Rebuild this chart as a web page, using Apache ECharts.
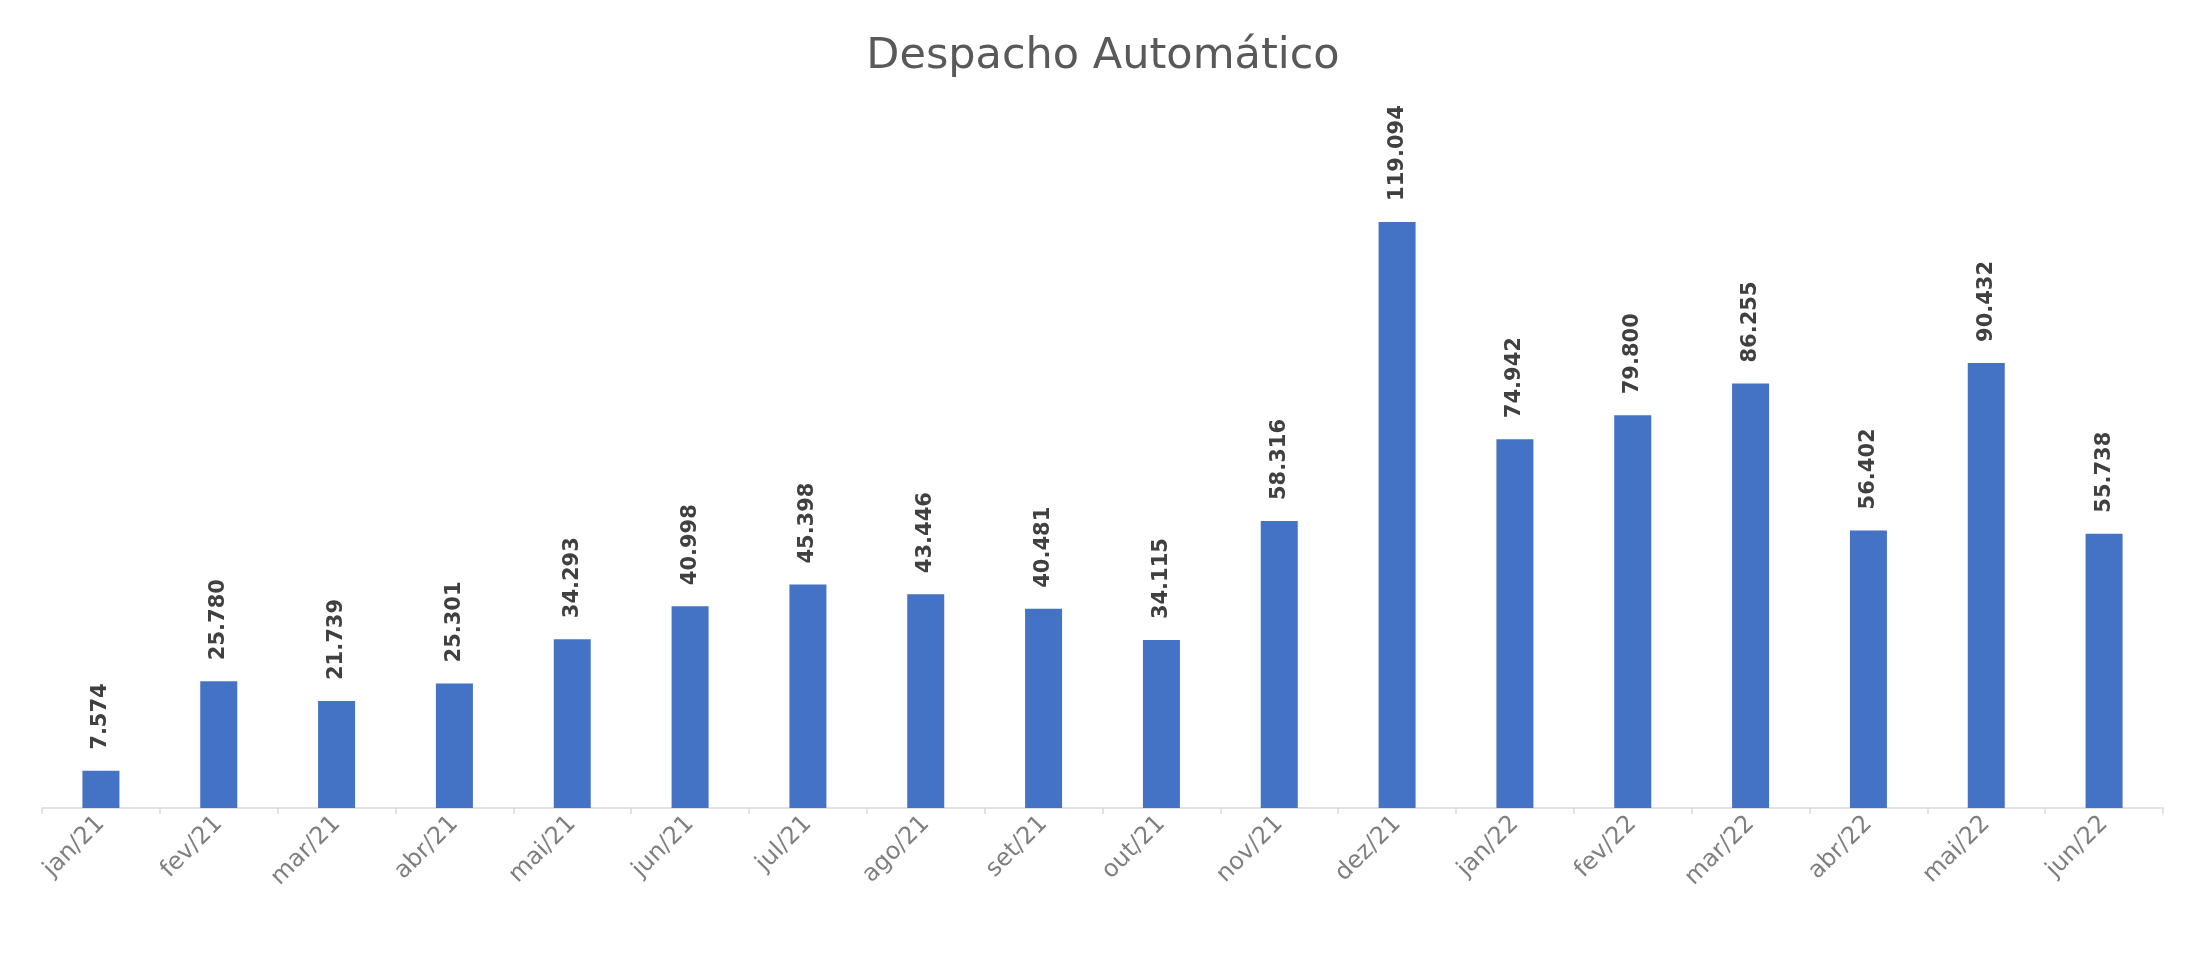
<!DOCTYPE html>
<html>
<head>
<meta charset="utf-8">
<script src="https://cdn.jsdelivr.net/npm/echarts@6/dist/echarts.min.js"></script>
<style>
html,body{margin:0;padding:0;background:#fff;}
#chart{width:2189px;height:965px;}
</style>
</head>
<body>
<div id="chart"></div>
<script>
const titleText = 'Despacho Automático';
const categories = ['jan/21','fev/21','mar/21','abr/21','mai/21','jun/21','jul/21','ago/21','set/21','out/21','nov/21','dez/21','jan/22','fev/22','mar/22','abr/22','mai/22','jun/22'];
const values = [7574, 25780, 21739, 25301, 34293, 40998, 45398, 43446, 40481, 34115, 58316, 119094, 74942, 79800, 86255, 56402, 90432, 55738];

function fmt(v){
  return String(v).replace(/\B(?=(\d{3})+(?!\d))/g, '.');
}

const chart = echarts.init(document.getElementById('chart'));
chart.setOption({
  backgroundColor: '#ffffff',
  animation: false,
  title: {
    text: titleText,
    left: 1098,
    top: 30,
    textAlign: 'center',
    textStyle: {
      fontFamily: 'DejaVu Sans',
      fontSize: 43,
      fontWeight: 'normal',
      color: '#595959'
    }
  },
  grid: {
    left: 42,
    right: 26,
    top: 119,
    bottom: 157,
    containLabel: false
  },
  xAxis: {
    type: 'category',
    data: categories,
    axisLine: { lineStyle: { color: '#d9d9d9', width: 1.5 } },
    axisTick: { show: true, alignWithLabel: false, length: 6, lineStyle: { color: '#d9d9d9', width: 1.5 } },
    axisLabel: {
      rotate: 45,
      interval: 0,
      margin: 12,
      fontFamily: 'DejaVu Sans',
      fontSize: 24,
      color: '#7f7f7f'
    }
  },
  yAxis: {
    type: 'value',
    min: 0,
    max: 140000,
    show: false,
    splitLine: { show: false }
  },
  series: [{
    type: 'bar',
    data: values,
    barWidth: 37,
    itemStyle: { color: '#4472C4' },
    label: {
      show: true,
      position: 'top',
      rotate: 90,
      align: 'left',
      verticalAlign: 'middle',
      distance: 21,
      fontFamily: 'DejaVu Sans',
      fontSize: 21,
      fontWeight: 'bold',
      color: '#404040',
      formatter: function(p){ return fmt(p.value); }
    }
  }]
});
</script>
</body>
</html>
